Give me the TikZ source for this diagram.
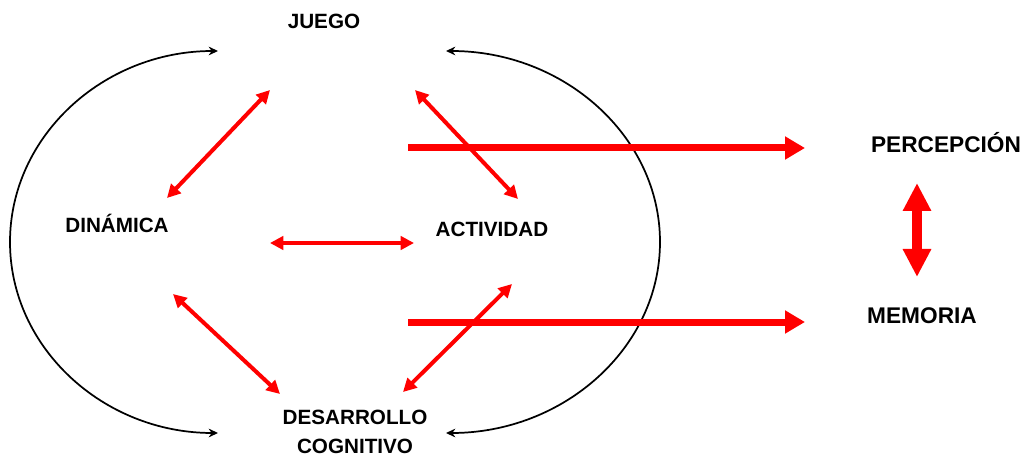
\documentclass[tikz,border=0pt]{standalone}
\usepackage{fontspec}
\setmainfont{Liberation Sans}
\usetikzlibrary{arrows.meta}

\begin{document}
\begin{tikzpicture}[x=0.75pt,y=-0.75pt,
    lbl/.style={anchor=base,inner sep=0pt,align=center,font=\bfseries\fontsize{15.5}{21.75}\selectfont},
    biglbl/.style={lbl,font=\bfseries\fontsize{17}{20}\selectfont},
    loopline/.style={draw=black,line width=1.3pt,>={Stealth[length=7pt,width=6.5pt]},<->},
    redlink/.style={draw=red,line width=3pt,>={Triangle[length=10pt,width=10pt]},<->},
    redflow/.style={draw=red,line width=5.25pt,>={Triangle[length=15pt,width=16.5pt]},->},
    redswap/.style={draw=red,line width=7.5pt,>={Triangle[length=21pt,width=20pt]},<->}]
\useasboundingbox (0,0) rectangle (1025,456);

\node[lbl] (juego) at (324,29) {JUEGO};
\node[lbl] (dinamica) at (117,233) {DIN\'AMICA};
\node[lbl] (actividad) at (492,237) {ACTIVIDAD};
\node[lbl] (desarrollo) at (355,453) {DESARROLLO\\COGNITIVO};
\node[biglbl] (percepcion) at (946,153) {PERCEPCI\'ON};
\node[biglbl] (memoria) at (922,323) {MEMORIA};

% ciclo
\draw[loopline] ([shift={(-137,-20)}]desarrollo.base) arc[start angle=90,end angle=270,x radius=208,y radius=191];
\draw[loopline] ([shift={(122,22)}]juego.base) arc[start angle=270,end angle=450,x radius=214,y radius=191];

\draw[redlink] ([shift={(-54,61)}]juego.base) -- ([shift={(50,-35)}]dinamica.base);
\draw[redlink] ([shift={(91,61)}]juego.base) -- ([shift={(26,-38)}]actividad.base);
\draw[redlink] ([shift={(153,10)}]dinamica.base) -- ([shift={(-78,6)}]actividad.base);
\draw[redlink] ([shift={(56,61)}]dinamica.base) -- ([shift={(-75,-59)}]desarrollo.base);
\draw[redlink] ([shift={(20,47)}]actividad.base) -- ([shift={(48,-61)}]desarrollo.base);

\draw[redflow] ([shift={(-84,-89)}]actividad.base) -- ([shift={(-141,-5)}]percepcion.base);
\draw[redflow] ([shift={(-84,85)}]actividad.base) -- ([shift={(-117,-1)}]memoria.base);
\draw[redswap] ([shift={(-29,30)}]percepcion.base) -- ([shift={(-5,-46)}]memoria.base);
\end{tikzpicture}
\end{document}
